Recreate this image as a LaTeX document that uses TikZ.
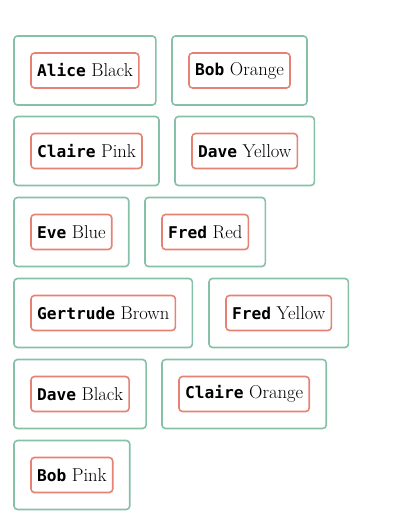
\documentclass[tikz,border=0pt]{standalone}
\usepackage{fontspec}
\newfontfamily\namefont{DejaVu Sans Mono}
\usetikzlibrary{fit}
\definecolor{greenc}{RGB}{134,192,166}
\definecolor{redc}{RGB}{229,130,115}
\newcommand{\nm}[1]{{\fontsize{16.2}{19}\selectfont\namefont\bfseries #1}}
\tikzset{
  item/.style={draw=redc, line width=1.6pt, rounded corners=3.5pt, minimum height=35pt,
    inner xsep=6pt, inner ysep=0pt, outer sep=0pt, anchor=west, font=\fontsize{18.6}{21}\selectfont},
  group/.style={draw=greenc, line width=1.6pt, rounded corners=3.5pt, inner sep=17pt, outer sep=0pt}
}
\begin{document}
\begin{tikzpicture}[x=1pt,y=1pt]
\useasboundingbox (0,0) rectangle (400,-524);
% row 1
\node[item] (i1) at (31,-70.5) {\nm{Alice} Black};
\node[group, fit=(i1)] (g1) {};
\node[item] (i2) at (189,-70.5) {\nm{Bob} Orange};
\node[group, fit=(i2)] (g2) {};
% row 2
\node[item] (i3) at (31,-151) {\nm{Claire} Pink};
\node[group, fit=(i3)] (g3) {};
\node[item] (i4) at (192,-151) {\nm{Dave} Yellow};
\node[group, fit=(i4)] (g4) {};
% row 3
\node[item] (i5) at (31,-232) {\nm{Eve} Blue};
\node[group, fit=(i5)] (g5) {};
\node[item] (i6) at (162,-232) {\nm{Fred} Red};
\node[group, fit=(i6)] (g6) {};
% row 4
\node[item] (i7) at (31,-313) {\nm{Gertrude} Brown};
\node[group, fit=(i7)] (g7) {};
\node[item] (i8) at (226,-313) {\nm{Fred} Yellow};
\node[group, fit=(i8)] (g8) {};
% row 5
\node[item] (i9) at (31,-394) {\nm{Dave} Black};
\node[group, fit=(i9)] (g9) {};
\node[item] (i10) at (179,-394) {\nm{Claire} Orange};
\node[group, fit=(i10)] (g10) {};
% row 6
\node[item] (i11) at (31,-475) {\nm{Bob} Pink};
\node[group, fit=(i11)] (g11) {};
\end{tikzpicture}
\end{document}
